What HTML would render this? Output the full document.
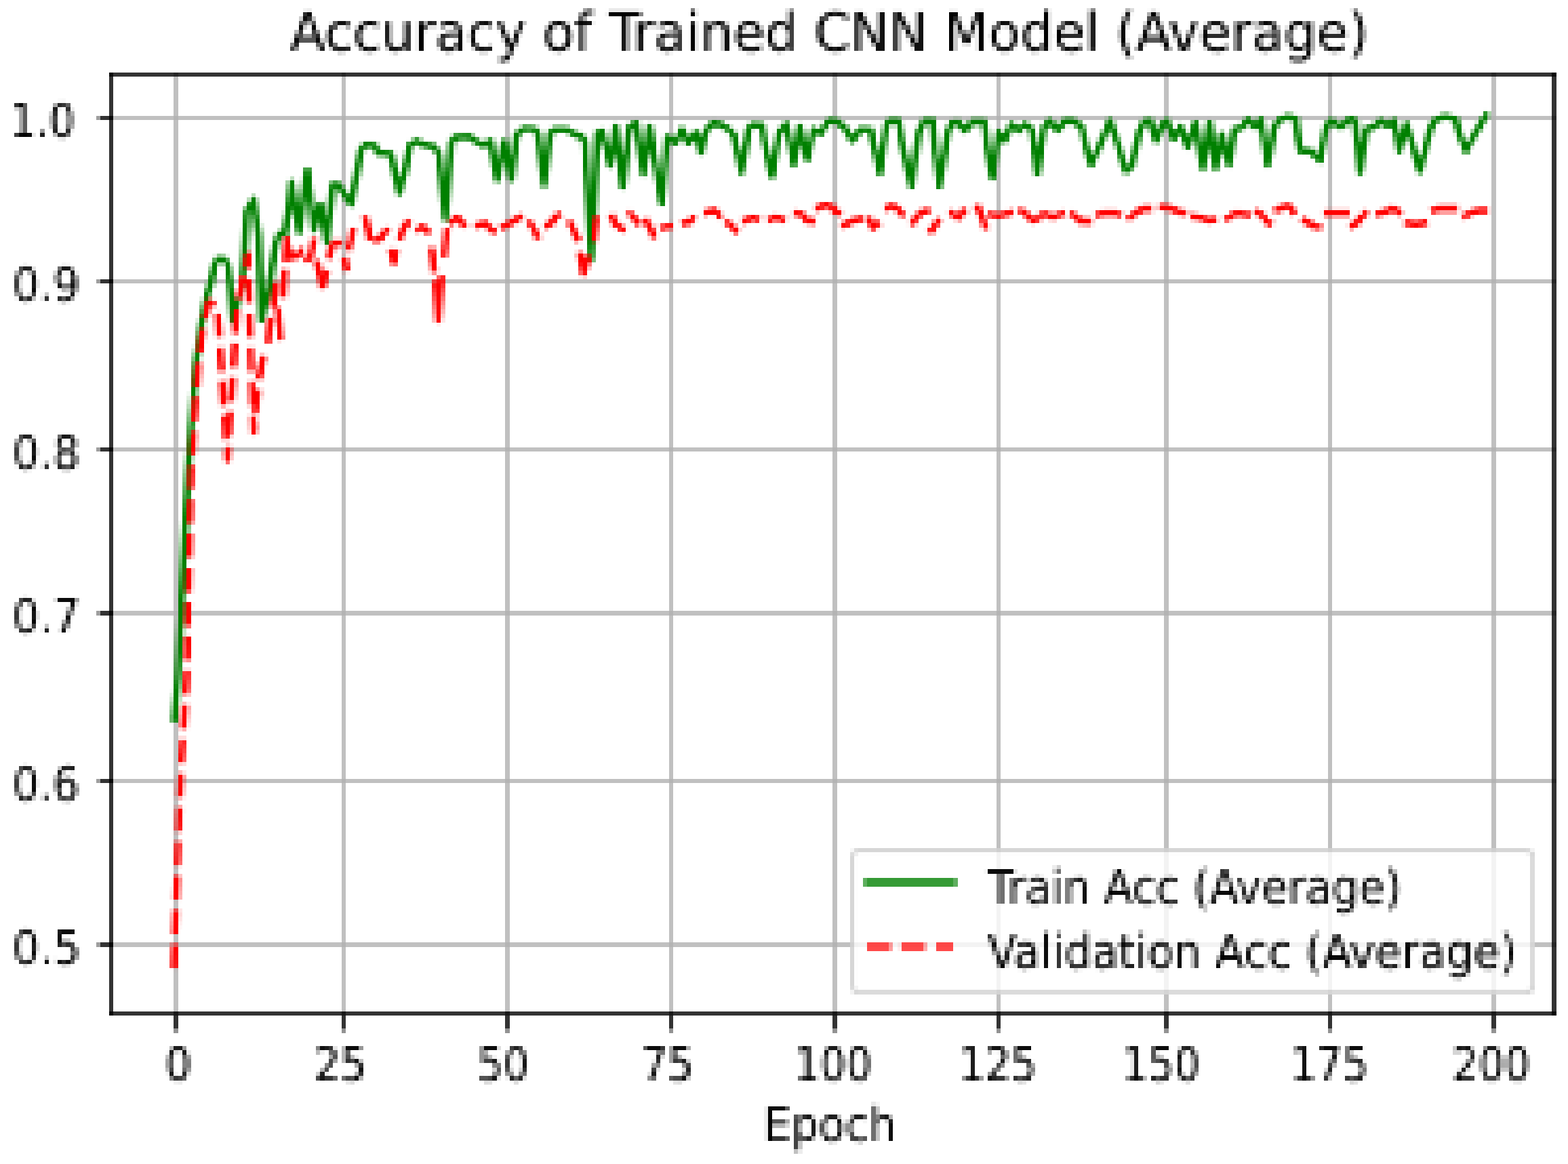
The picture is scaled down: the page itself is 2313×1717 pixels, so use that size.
<!DOCTYPE html>
<html lang="en">
<head>
<meta charset="utf-8">
<title>Accuracy of Trained CNN Model (Average)</title>
<style>
html,body{margin:0;padding:0;background:#ffffff;}
body{width:2313px;height:1717px;}
svg{display:block;}
text{font-family:"DejaVu Sans","Liberation Sans",sans-serif;}
</style>
</head>
<body>
<svg width="2313" height="1717" viewBox="0 0 2313 1717">
<defs>
<filter id="fbox" filterUnits="userSpaceOnUse" x="0" y="0" width="2313" height="1717" color-interpolation-filters="sRGB">
<feConvolveMatrix order="6 1" kernelMatrix="1 1 1 1 1 1" divisor="6" targetX="0" targetY="0" edgeMode="duplicate" preserveAlpha="true" result="h"/>
<feConvolveMatrix in="h" order="1 6" kernelMatrix="1 1 1 1 1 1" divisor="6" targetX="0" targetY="0" edgeMode="duplicate" preserveAlpha="true"/>
</filter>
<pattern id="pdots" patternUnits="userSpaceOnUse" x="53" y="88" width="108" height="108" fill="#ffffff"><rect x="0" y="0" width="1" height="1"/><rect x="0" y="6" width="1" height="1"/><rect x="0" y="13" width="1" height="1"/><rect x="0" y="19" width="1" height="1"/><rect x="0" y="25" width="1" height="1"/><rect x="0" y="32" width="1" height="1"/><rect x="0" y="38" width="1" height="1"/><rect x="0" y="44" width="1" height="1"/><rect x="0" y="51" width="1" height="1"/><rect x="0" y="57" width="1" height="1"/><rect x="0" y="64" width="1" height="1"/><rect x="0" y="70" width="1" height="1"/><rect x="0" y="76" width="1" height="1"/><rect x="0" y="83" width="1" height="1"/><rect x="0" y="89" width="1" height="1"/><rect x="0" y="95" width="1" height="1"/><rect x="0" y="102" width="1" height="1"/><rect x="6" y="0" width="1" height="1"/><rect x="6" y="6" width="1" height="1"/><rect x="6" y="13" width="1" height="1"/><rect x="6" y="19" width="1" height="1"/><rect x="6" y="25" width="1" height="1"/><rect x="6" y="32" width="1" height="1"/><rect x="6" y="38" width="1" height="1"/><rect x="6" y="44" width="1" height="1"/><rect x="6" y="51" width="1" height="1"/><rect x="6" y="57" width="1" height="1"/><rect x="6" y="64" width="1" height="1"/><rect x="6" y="70" width="1" height="1"/><rect x="6" y="76" width="1" height="1"/><rect x="6" y="83" width="1" height="1"/><rect x="6" y="89" width="1" height="1"/><rect x="6" y="95" width="1" height="1"/><rect x="6" y="102" width="1" height="1"/><rect x="13" y="0" width="1" height="1"/><rect x="13" y="6" width="1" height="1"/><rect x="13" y="13" width="1" height="1"/><rect x="13" y="19" width="1" height="1"/><rect x="13" y="25" width="1" height="1"/><rect x="13" y="32" width="1" height="1"/><rect x="13" y="38" width="1" height="1"/><rect x="13" y="44" width="1" height="1"/><rect x="13" y="51" width="1" height="1"/><rect x="13" y="57" width="1" height="1"/><rect x="13" y="64" width="1" height="1"/><rect x="13" y="70" width="1" height="1"/><rect x="13" y="76" width="1" height="1"/><rect x="13" y="83" width="1" height="1"/><rect x="13" y="89" width="1" height="1"/><rect x="13" y="95" width="1" height="1"/><rect x="13" y="102" width="1" height="1"/><rect x="19" y="0" width="1" height="1"/><rect x="19" y="6" width="1" height="1"/><rect x="19" y="13" width="1" height="1"/><rect x="19" y="19" width="1" height="1"/><rect x="19" y="25" width="1" height="1"/><rect x="19" y="32" width="1" height="1"/><rect x="19" y="38" width="1" height="1"/><rect x="19" y="44" width="1" height="1"/><rect x="19" y="51" width="1" height="1"/><rect x="19" y="57" width="1" height="1"/><rect x="19" y="64" width="1" height="1"/><rect x="19" y="70" width="1" height="1"/><rect x="19" y="76" width="1" height="1"/><rect x="19" y="83" width="1" height="1"/><rect x="19" y="89" width="1" height="1"/><rect x="19" y="95" width="1" height="1"/><rect x="19" y="102" width="1" height="1"/><rect x="25" y="0" width="1" height="1"/><rect x="25" y="6" width="1" height="1"/><rect x="25" y="13" width="1" height="1"/><rect x="25" y="19" width="1" height="1"/><rect x="25" y="25" width="1" height="1"/><rect x="25" y="32" width="1" height="1"/><rect x="25" y="38" width="1" height="1"/><rect x="25" y="44" width="1" height="1"/><rect x="25" y="51" width="1" height="1"/><rect x="25" y="57" width="1" height="1"/><rect x="25" y="64" width="1" height="1"/><rect x="25" y="70" width="1" height="1"/><rect x="25" y="76" width="1" height="1"/><rect x="25" y="83" width="1" height="1"/><rect x="25" y="89" width="1" height="1"/><rect x="25" y="95" width="1" height="1"/><rect x="25" y="102" width="1" height="1"/><rect x="32" y="0" width="1" height="1"/><rect x="32" y="6" width="1" height="1"/><rect x="32" y="13" width="1" height="1"/><rect x="32" y="19" width="1" height="1"/><rect x="32" y="25" width="1" height="1"/><rect x="32" y="32" width="1" height="1"/><rect x="32" y="38" width="1" height="1"/><rect x="32" y="44" width="1" height="1"/><rect x="32" y="51" width="1" height="1"/><rect x="32" y="57" width="1" height="1"/><rect x="32" y="64" width="1" height="1"/><rect x="32" y="70" width="1" height="1"/><rect x="32" y="76" width="1" height="1"/><rect x="32" y="83" width="1" height="1"/><rect x="32" y="89" width="1" height="1"/><rect x="32" y="95" width="1" height="1"/><rect x="32" y="102" width="1" height="1"/><rect x="38" y="0" width="1" height="1"/><rect x="38" y="6" width="1" height="1"/><rect x="38" y="13" width="1" height="1"/><rect x="38" y="19" width="1" height="1"/><rect x="38" y="25" width="1" height="1"/><rect x="38" y="32" width="1" height="1"/><rect x="38" y="38" width="1" height="1"/><rect x="38" y="44" width="1" height="1"/><rect x="38" y="51" width="1" height="1"/><rect x="38" y="57" width="1" height="1"/><rect x="38" y="64" width="1" height="1"/><rect x="38" y="70" width="1" height="1"/><rect x="38" y="76" width="1" height="1"/><rect x="38" y="83" width="1" height="1"/><rect x="38" y="89" width="1" height="1"/><rect x="38" y="95" width="1" height="1"/><rect x="38" y="102" width="1" height="1"/><rect x="44" y="0" width="1" height="1"/><rect x="44" y="6" width="1" height="1"/><rect x="44" y="13" width="1" height="1"/><rect x="44" y="19" width="1" height="1"/><rect x="44" y="25" width="1" height="1"/><rect x="44" y="32" width="1" height="1"/><rect x="44" y="38" width="1" height="1"/><rect x="44" y="44" width="1" height="1"/><rect x="44" y="51" width="1" height="1"/><rect x="44" y="57" width="1" height="1"/><rect x="44" y="64" width="1" height="1"/><rect x="44" y="70" width="1" height="1"/><rect x="44" y="76" width="1" height="1"/><rect x="44" y="83" width="1" height="1"/><rect x="44" y="89" width="1" height="1"/><rect x="44" y="95" width="1" height="1"/><rect x="44" y="102" width="1" height="1"/><rect x="51" y="0" width="1" height="1"/><rect x="51" y="6" width="1" height="1"/><rect x="51" y="13" width="1" height="1"/><rect x="51" y="19" width="1" height="1"/><rect x="51" y="25" width="1" height="1"/><rect x="51" y="32" width="1" height="1"/><rect x="51" y="38" width="1" height="1"/><rect x="51" y="44" width="1" height="1"/><rect x="51" y="51" width="1" height="1"/><rect x="51" y="57" width="1" height="1"/><rect x="51" y="64" width="1" height="1"/><rect x="51" y="70" width="1" height="1"/><rect x="51" y="76" width="1" height="1"/><rect x="51" y="83" width="1" height="1"/><rect x="51" y="89" width="1" height="1"/><rect x="51" y="95" width="1" height="1"/><rect x="51" y="102" width="1" height="1"/><rect x="57" y="0" width="1" height="1"/><rect x="57" y="6" width="1" height="1"/><rect x="57" y="13" width="1" height="1"/><rect x="57" y="19" width="1" height="1"/><rect x="57" y="25" width="1" height="1"/><rect x="57" y="32" width="1" height="1"/><rect x="57" y="38" width="1" height="1"/><rect x="57" y="44" width="1" height="1"/><rect x="57" y="51" width="1" height="1"/><rect x="57" y="57" width="1" height="1"/><rect x="57" y="64" width="1" height="1"/><rect x="57" y="70" width="1" height="1"/><rect x="57" y="76" width="1" height="1"/><rect x="57" y="83" width="1" height="1"/><rect x="57" y="89" width="1" height="1"/><rect x="57" y="95" width="1" height="1"/><rect x="57" y="102" width="1" height="1"/><rect x="64" y="0" width="1" height="1"/><rect x="64" y="6" width="1" height="1"/><rect x="64" y="13" width="1" height="1"/><rect x="64" y="19" width="1" height="1"/><rect x="64" y="25" width="1" height="1"/><rect x="64" y="32" width="1" height="1"/><rect x="64" y="38" width="1" height="1"/><rect x="64" y="44" width="1" height="1"/><rect x="64" y="51" width="1" height="1"/><rect x="64" y="57" width="1" height="1"/><rect x="64" y="64" width="1" height="1"/><rect x="64" y="70" width="1" height="1"/><rect x="64" y="76" width="1" height="1"/><rect x="64" y="83" width="1" height="1"/><rect x="64" y="89" width="1" height="1"/><rect x="64" y="95" width="1" height="1"/><rect x="64" y="102" width="1" height="1"/><rect x="70" y="0" width="1" height="1"/><rect x="70" y="6" width="1" height="1"/><rect x="70" y="13" width="1" height="1"/><rect x="70" y="19" width="1" height="1"/><rect x="70" y="25" width="1" height="1"/><rect x="70" y="32" width="1" height="1"/><rect x="70" y="38" width="1" height="1"/><rect x="70" y="44" width="1" height="1"/><rect x="70" y="51" width="1" height="1"/><rect x="70" y="57" width="1" height="1"/><rect x="70" y="64" width="1" height="1"/><rect x="70" y="70" width="1" height="1"/><rect x="70" y="76" width="1" height="1"/><rect x="70" y="83" width="1" height="1"/><rect x="70" y="89" width="1" height="1"/><rect x="70" y="95" width="1" height="1"/><rect x="70" y="102" width="1" height="1"/><rect x="76" y="0" width="1" height="1"/><rect x="76" y="6" width="1" height="1"/><rect x="76" y="13" width="1" height="1"/><rect x="76" y="19" width="1" height="1"/><rect x="76" y="25" width="1" height="1"/><rect x="76" y="32" width="1" height="1"/><rect x="76" y="38" width="1" height="1"/><rect x="76" y="44" width="1" height="1"/><rect x="76" y="51" width="1" height="1"/><rect x="76" y="57" width="1" height="1"/><rect x="76" y="64" width="1" height="1"/><rect x="76" y="70" width="1" height="1"/><rect x="76" y="76" width="1" height="1"/><rect x="76" y="83" width="1" height="1"/><rect x="76" y="89" width="1" height="1"/><rect x="76" y="95" width="1" height="1"/><rect x="76" y="102" width="1" height="1"/><rect x="83" y="0" width="1" height="1"/><rect x="83" y="6" width="1" height="1"/><rect x="83" y="13" width="1" height="1"/><rect x="83" y="19" width="1" height="1"/><rect x="83" y="25" width="1" height="1"/><rect x="83" y="32" width="1" height="1"/><rect x="83" y="38" width="1" height="1"/><rect x="83" y="44" width="1" height="1"/><rect x="83" y="51" width="1" height="1"/><rect x="83" y="57" width="1" height="1"/><rect x="83" y="64" width="1" height="1"/><rect x="83" y="70" width="1" height="1"/><rect x="83" y="76" width="1" height="1"/><rect x="83" y="83" width="1" height="1"/><rect x="83" y="89" width="1" height="1"/><rect x="83" y="95" width="1" height="1"/><rect x="83" y="102" width="1" height="1"/><rect x="89" y="0" width="1" height="1"/><rect x="89" y="6" width="1" height="1"/><rect x="89" y="13" width="1" height="1"/><rect x="89" y="19" width="1" height="1"/><rect x="89" y="25" width="1" height="1"/><rect x="89" y="32" width="1" height="1"/><rect x="89" y="38" width="1" height="1"/><rect x="89" y="44" width="1" height="1"/><rect x="89" y="51" width="1" height="1"/><rect x="89" y="57" width="1" height="1"/><rect x="89" y="64" width="1" height="1"/><rect x="89" y="70" width="1" height="1"/><rect x="89" y="76" width="1" height="1"/><rect x="89" y="83" width="1" height="1"/><rect x="89" y="89" width="1" height="1"/><rect x="89" y="95" width="1" height="1"/><rect x="89" y="102" width="1" height="1"/><rect x="95" y="0" width="1" height="1"/><rect x="95" y="6" width="1" height="1"/><rect x="95" y="13" width="1" height="1"/><rect x="95" y="19" width="1" height="1"/><rect x="95" y="25" width="1" height="1"/><rect x="95" y="32" width="1" height="1"/><rect x="95" y="38" width="1" height="1"/><rect x="95" y="44" width="1" height="1"/><rect x="95" y="51" width="1" height="1"/><rect x="95" y="57" width="1" height="1"/><rect x="95" y="64" width="1" height="1"/><rect x="95" y="70" width="1" height="1"/><rect x="95" y="76" width="1" height="1"/><rect x="95" y="83" width="1" height="1"/><rect x="95" y="89" width="1" height="1"/><rect x="95" y="95" width="1" height="1"/><rect x="95" y="102" width="1" height="1"/><rect x="102" y="0" width="1" height="1"/><rect x="102" y="6" width="1" height="1"/><rect x="102" y="13" width="1" height="1"/><rect x="102" y="19" width="1" height="1"/><rect x="102" y="25" width="1" height="1"/><rect x="102" y="32" width="1" height="1"/><rect x="102" y="38" width="1" height="1"/><rect x="102" y="44" width="1" height="1"/><rect x="102" y="51" width="1" height="1"/><rect x="102" y="57" width="1" height="1"/><rect x="102" y="64" width="1" height="1"/><rect x="102" y="70" width="1" height="1"/><rect x="102" y="76" width="1" height="1"/><rect x="102" y="83" width="1" height="1"/><rect x="102" y="89" width="1" height="1"/><rect x="102" y="95" width="1" height="1"/><rect x="102" y="102" width="1" height="1"/></pattern>
<mask id="mdots" maskUnits="userSpaceOnUse" x="0" y="0" width="2313" height="1717"><rect x="0" y="0" width="2313" height="1717" fill="url(#pdots)"/></mask>
<filter id="fexp" filterUnits="userSpaceOnUse" x="0" y="0" width="2313" height="1717" color-interpolation-filters="sRGB">
<feOffset in="SourceGraphic" dx="1" dy="0" result="a1"/><feMerge result="e1"><feMergeNode in="a1"/><feMergeNode in="SourceGraphic"/></feMerge>
<feOffset in="e1" dx="2" dy="0" result="a2"/><feMerge result="e2"><feMergeNode in="a2"/><feMergeNode in="e1"/></feMerge>
<feOffset in="e2" dx="3" dy="0" result="a3"/><feMerge result="e3"><feMergeNode in="a3"/><feMergeNode in="e2"/></feMerge>
<feOffset in="e3" dx="0" dy="1" result="c1"/><feMerge result="g1"><feMergeNode in="c1"/><feMergeNode in="e3"/></feMerge>
<feOffset in="g1" dx="0" dy="2" result="c2"/><feMerge result="g2"><feMergeNode in="c2"/><feMergeNode in="g1"/></feMerge>
<feOffset in="g2" dx="0" dy="3" result="c3"/><feMerge><feMergeNode in="c3"/><feMergeNode in="g2"/></feMerge>
</filter>
</defs>
<g filter="url(#fexp)"><g mask="url(#mdots)"><g filter="url(#fbox)">
<rect x="-20" y="-20" width="2353" height="1757" fill="#ffffff"/>
<g fill="rgb(176,176,176)" fill-opacity="0.8">
<rect x="256" y="107" width="7" height="1391"/>
<rect x="504" y="107" width="6" height="1391"/>
<rect x="745" y="107" width="7" height="1391"/>
<rect x="987" y="107" width="6" height="1391"/>
<rect x="1228" y="107" width="7" height="1391"/>
<rect x="1470" y="107" width="6" height="1391"/>
<rect x="1717" y="107" width="7" height="1391"/>
<rect x="1959" y="107" width="6" height="1391"/>
<rect x="2200" y="107" width="7" height="1391"/>
<rect x="161" y="171" width="2135" height="6"/>
<rect x="161" y="412" width="2135" height="6"/>
<rect x="161" y="660" width="2135" height="6"/>
<rect x="161" y="901" width="2135" height="7"/>
<rect x="161" y="1149" width="2135" height="6"/>
<rect x="161" y="1390" width="2135" height="7"/>
</g>
<clipPath id="axclip"><rect x="161" y="107" width="2135" height="1391"/></clipPath>
<g clip-path="url(#axclip)" fill="none" stroke-linejoin="round">
<polyline points="257.0,1060.7 262.5,997.0 269.0,857.0 277.0,700.0 282.0,628.0 288.5,538.0 297.5,475.0 303.8,441.0 311.0,416.1 316.4,390.9 320.9,381.9 331.7,382.8 336.2,392.7 338.9,414.3 343.4,473.1 356.9,419.7 360.4,374.7 364.0,311.8 373.9,293.8 381.1,347.8 383.8,419.7 385.6,471.3 396.4,426.9 401.8,389.1 407.2,356.7 411.7,345.1 419.8,345.1 425.2,311.8 429.7,268.7 441.3,342.4 453.0,250.7 462.9,338.8 471.9,301.0 481.8,356.7 490.8,272.2 498.9,272.2 506.1,283.0 517.8,301.0 525.8,257.9 532.1,221.9 538.4,213.8 552.8,214.7 558.2,225.5 576.2,226.4 581.6,250.7 588.8,284.8 597.8,248.9 604.9,212.9 615.7,207.5 620.0,212.0 639.8,216.5 647.0,225.5 656.9,322.6 665.8,209.3 672.1,202.1 691.9,201.2 700.9,207.5 713.5,214.7 723.4,207.5 733.3,265.1 743.7,208.4 753.9,264.2 762.0,198.5 772.8,189.6 789.0,190.4 793.5,196.7 802.5,272.2 811.5,196.7 817.8,191.0 835.7,191.0 844.7,196.7 857.3,201.2 862.7,207.5 872.2,381.0 881.6,196.7 887.9,193.1 900.1,243.5 908.5,186.9 918.4,274.9 928.3,186.9 938.2,181.5 949.0,256.1 958.0,186.9 976.0,299.2 984.0,202.1 996.6,210.2 1005.8,190.4 1015.3,210.6 1027.3,195.8 1034.2,224.1 1041.3,192.2 1052.1,181.5 1062.9,183.3 1075.5,191.3 1082.7,200.3 1093.5,253.4 1104.3,189.6 1109.7,184.2 1124.0,185.1 1127.6,209.3 1138.4,259.7 1149.2,194.9 1160.0,183.3 1170.8,241.7 1179.8,186.9 1190.6,234.5 1199.6,190.4 1210.3,196.7 1219.3,181.5 1224.7,177.9 1235.5,179.7 1246.3,188.7 1257.1,207.5 1269.7,190.4 1284.0,191.3 1297.5,254.3 1307.4,183.3 1312.8,178.4 1325.4,178.4 1330.8,212.9 1344.3,274.0 1355.1,194.9 1363.1,178.4 1375.7,178.4 1379.3,221.9 1385.6,274.0 1398.0,194.9 1403.4,181.5 1414.2,180.6 1423.1,192.2 1433.9,179.7 1451.9,179.7 1455.5,212.9 1463.6,261.5 1472.6,194.9 1480.7,207.5 1487.9,193.1 1491.5,183.3 1502.2,192.2 1511.2,183.3 1522.0,190.4 1530.1,255.2 1540.0,186.9 1548.1,178.4 1559.8,192.2 1570.6,178.4 1583.1,178.4 1595.7,186.9 1601.1,212.9 1609.2,241.7 1622.7,212.9 1637.1,178.4 1646.1,203.9 1660.4,251.6 1669.4,245.3 1680.2,194.9 1687.4,179.7 1696.4,178.4 1705.4,207.5 1714.4,183.3 1721.6,178.4 1730.6,203.9 1741.3,186.9 1752.1,216.5 1761.1,186.9 1763.6,181.5 1774.4,248.0 1784.3,181.5 1793.3,248.0 1802.2,198.5 1813.0,242.6 1821.1,190.4 1830.1,188.7 1840.9,176.6 1851.7,186.9 1859.8,176.6 1869.7,242.6 1879.6,186.9 1887.6,176.6 1900.2,171.6 1911.0,174.8 1914.6,203.9 1918.2,221.9 1932.6,222.8 1947.0,236.3 1956.0,186.9 1963.1,178.4 1977.5,186.9 1991.9,174.8 1999.1,178.4 2006.3,253.4 2015.3,190.4 2026.1,186.9 2036.9,178.4 2047.6,185.1 2056.6,178.4 2063.8,221.9 2074.6,183.3 2094.4,251.6 2110.6,186.9 2117.8,176.6 2130.3,171.6 2146.5,174.8 2153.7,200.3 2162.0,221.9 2179.1,191.3 2192.0,170.1" stroke="#008000" stroke-width="9.53" stroke-linecap="square"/>
<polyline points="256.3,1428.0 266.0,1152.0 275.0,997.0 282.0,700.0 286.0,628.0 292.0,538.0 300.0,478.0 308.0,445.0 320.0,449.8 335.3,678.1 349.7,448.0 365.8,376.5 368.0,471.3 373.9,636.7 382.0,555.8 389.2,521.7" stroke="#ff0000" stroke-width="9.53" stroke-dasharray="35.26 15.25" stroke-linecap="butt"/>
<polyline points="395.4,506.5 398.6,468.5" stroke="#ff0000" stroke-width="9.53" stroke-linecap="butt"/>
<polyline points="402.8,453.5 406.7,416.5" stroke="#ff0000" stroke-width="9.53" stroke-linecap="butt"/>
<polyline points="409.4,453.5 413.6,501.5" stroke="#ff0000" stroke-width="9.53" stroke-linecap="butt"/>
<polyline points="417.2,438.5 419.9,397.5" stroke="#ff0000" stroke-width="9.53" stroke-linecap="butt"/>
<polyline points="420.9,385.5 423.4,348.5" stroke="#ff0000" stroke-width="9.53" stroke-linecap="butt"/>
<polyline points="425.6,364.6 430.0,379.0 441.0,376.0 445.0,364.6" stroke="#ff0000" stroke-width="9.53" stroke-linecap="butt"/>
<polyline points="448.7,383.7 458.0,379.0 463.3,350.5" stroke="#ff0000" stroke-width="9.53" stroke-linecap="butt"/>
<polyline points="466.7,383.5 471.0,402.0 476.3,425.5" stroke="#ff0000" stroke-width="9.53" stroke-linecap="butt"/>
<polyline points="477.2,421.5 481.8,398.5" stroke="#ff0000" stroke-width="9.53" stroke-linecap="butt"/>
<polyline points="485.2,381.5 489.8,358.5" stroke="#ff0000" stroke-width="9.53" stroke-linecap="butt"/>
<polyline points="489.5,358.0 505.5,358.0" stroke="#ff0000" stroke-width="9.53" stroke-linecap="butt"/>
<polyline points="507.7,379.5 511.3,399.5" stroke="#ff0000" stroke-width="9.53" stroke-linecap="butt"/>
<polyline points="513.6,369.5 518.0,352.0 520.7,335.5" stroke="#ff0000" stroke-width="9.53" stroke-linecap="butt"/>
<polyline points="537.6,318.6 542.0,335.0 546.3,354.5" stroke="#ff0000" stroke-width="9.53" stroke-linecap="butt"/>
<polyline points="550.6,355.5 560.0,352.0 567.0,343.0 573.1,336.9" stroke="#ff0000" stroke-width="9.53" stroke-linecap="butt"/>
<polyline points="576.7,366.5 580.5,387.0 584.3,368.5" stroke="#ff0000" stroke-width="9.53" stroke-linecap="butt"/>
<polyline points="589.0,353.4 596.0,335.0 603.9,324.8" stroke="#ff0000" stroke-width="9.53" stroke-linecap="butt"/>
<polyline points="613.8,340.9 623.0,334.0 629.0,338.5 633.3,345.3" stroke="#ff0000" stroke-width="9.53" stroke-linecap="butt"/>
<polyline points="636.1,364.5 640.7,401.5" stroke="#ff0000" stroke-width="9.53" stroke-linecap="butt"/>
<polyline points="641.9,413.5 646.0,472.0 651.1,406.5" stroke="#ff0000" stroke-width="9.53" stroke-linecap="butt"/>
<polyline points="654.9,379.5 659.1,336.5" stroke="#ff0000" stroke-width="9.53" stroke-linecap="butt"/>
<polyline points="663.1,330.1 674.4,320.3 686.8,334.2" stroke="#ff0000" stroke-width="9.53" stroke-linecap="butt"/>
<polyline points="700.6,333.6 715.5,329.1 723.6,337.2 730.7,343.6" stroke="#ff0000" stroke-width="9.53" stroke-linecap="butt"/>
<polyline points="738.4,336.6 751.9,329.1 761.3,323.7 770.6,317.5" stroke="#ff0000" stroke-width="9.53" stroke-linecap="butt"/>
<polyline points="779.4,325.1 786.9,337.2 794.3,352.0" stroke="#ff0000" stroke-width="9.53" stroke-linecap="butt"/>
<polyline points="803.2,335.3 813.9,327.7 820.6,318.3 828.0,315.0" stroke="#ff0000" stroke-width="9.53" stroke-linecap="butt"/>
<polyline points="838.8,325.0 846.2,339.9 853.6,356.1" stroke="#ff0000" stroke-width="9.53" stroke-linecap="butt"/>
<polyline points="855.4,372.1 860.4,403.2 868.2,376.2" stroke="#ff0000" stroke-width="9.53" stroke-linecap="butt"/>
<polyline points="875.7,356.2 880.1,318.2" stroke="#ff0000" stroke-width="9.53" stroke-linecap="butt"/>
<polyline points="900.8,315.6 906.8,329.1 916.3,337.2 923.1,338.9" stroke="#ff0000" stroke-width="9.53" stroke-linecap="butt"/>
<polyline points="926.0,311.9 933.8,319.6 943.5,331.6" stroke="#ff0000" stroke-width="9.53" stroke-linecap="butt"/>
<polyline points="951.4,322.4 958.9,335.8 965.5,350.7" stroke="#ff0000" stroke-width="9.53" stroke-linecap="butt"/>
<polyline points="973.6,336.1 992.7,332.9" stroke="#ff0000" stroke-width="9.53" stroke-linecap="butt"/>
<polyline points="1005.3,329.4 1018.2,326.4 1024.5,318.5" stroke="#ff0000" stroke-width="9.53" stroke-linecap="butt"/>
<polyline points="1037.6,314.7 1053.2,310.2 1059.9,315.6 1061.7,322.5" stroke="#ff0000" stroke-width="9.53" stroke-linecap="butt"/>
<polyline points="1070.3,325.4 1080.2,334.5 1087.9,343.7" stroke="#ff0000" stroke-width="9.53" stroke-linecap="butt"/>
<polyline points="1094.9,326.9 1109.8,321.0 1120.7,324.1" stroke="#ff0000" stroke-width="9.53" stroke-linecap="butt"/>
<polyline points="1132.7,325.7 1144.9,319.6 1158.4,325.6" stroke="#ff0000" stroke-width="9.53" stroke-linecap="butt"/>
<polyline points="1170.3,314.1 1182.6,315.6 1189.3,325.0 1202.9,326.6" stroke="#ff0000" stroke-width="9.53" stroke-linecap="butt"/>
<polyline points="1202.8,308.1 1216.3,302.1 1227.1,304.8 1232.5,312.9 1241.5,314.5" stroke="#ff0000" stroke-width="9.53" stroke-linecap="butt"/>
<polyline points="1241.4,333.9 1254.8,326.4 1273.8,322.0" stroke="#ff0000" stroke-width="9.53" stroke-linecap="butt"/>
<polyline points="1280.5,319.6 1287.8,335.8 1297.0,326.7" stroke="#ff0000" stroke-width="9.53" stroke-linecap="butt"/>
<polyline points="1304.7,308.1 1315.5,303.5 1323.6,307.5 1334.0,319.4" stroke="#ff0000" stroke-width="9.53" stroke-linecap="butt"/>
<polyline points="1344.3,331.7 1353.2,318.3 1361.3,312.2 1372.2,309.9" stroke="#ff0000" stroke-width="9.53" stroke-linecap="butt"/>
<polyline points="1370.5,343.7 1378.8,333.1 1385.7,322.4" stroke="#ff0000" stroke-width="9.53" stroke-linecap="butt"/>
<polyline points="1399.8,312.1 1413.9,321.0 1424.2,307.7" stroke="#ff0000" stroke-width="9.53" stroke-linecap="butt"/>
<polyline points="1440.1,302.1 1447.5,317.0 1454.8,338.6" stroke="#ff0000" stroke-width="9.53" stroke-linecap="butt"/>
<polyline points="1456.9,315.3 1471.8,318.3 1494.8,312.5" stroke="#ff0000" stroke-width="9.53" stroke-linecap="butt"/>
<polyline points="1503.0,308.0 1514.9,317.0 1523.0,325.0 1533.9,321.9" stroke="#ff0000" stroke-width="9.53" stroke-linecap="butt"/>
<polyline points="1533.3,319.1 1540.0,314.9 1552.1,319.9 1571.1,313.5" stroke="#ff0000" stroke-width="9.53" stroke-linecap="butt"/>
<polyline points="1577.8,313.4 1587.2,319.6 1592.6,325.7 1610.2,326.5" stroke="#ff0000" stroke-width="9.53" stroke-linecap="butt"/>
<polyline points="1615.4,317.4 1626.3,314.3 1645.1,314.3 1654.6,317.4" stroke="#ff0000" stroke-width="9.53" stroke-linecap="butt"/>
<polyline points="1662.8,323.2 1674.8,314.3 1685.6,307.5 1699.2,307.5" stroke="#ff0000" stroke-width="9.53" stroke-linecap="butt"/>
<polyline points="1709.7,304.6 1728.7,307.5 1739.5,312.9 1750.4,314.5" stroke="#ff0000" stroke-width="9.53" stroke-linecap="butt"/>
<polyline points="1755.5,318.8 1769.1,320.3 1782.6,325.0 1794.9,323.5" stroke="#ff0000" stroke-width="9.53" stroke-linecap="butt"/>
<polyline points="1807.0,324.6 1817.6,317.0 1824.4,314.3 1844.7,317.2" stroke="#ff0000" stroke-width="9.53" stroke-linecap="butt"/>
<polyline points="1850.8,310.8 1861.6,317.0 1868.3,326.4 1876.3,331.2" stroke="#ff0000" stroke-width="9.53" stroke-linecap="butt"/>
<polyline points="1879.0,310.7 1891.2,306.2 1900.6,303.5 1906.0,308.9 1909.3,317.0" stroke="#ff0000" stroke-width="9.53" stroke-linecap="butt"/>
<polyline points="1919.5,323.0 1931.6,329.1 1939.7,334.5 1949.3,334.5" stroke="#ff0000" stroke-width="9.53" stroke-linecap="butt"/>
<polyline points="1951.7,314.3 1991.1,314.3" stroke="#ff0000" stroke-width="9.53" stroke-linecap="butt"/>
<polyline points="1991.0,335.3 2000.4,329.1 2008.5,319.6 2017.7,312.0" stroke="#ff0000" stroke-width="9.53" stroke-linecap="butt"/>
<polyline points="2028.6,315.9 2042.2,312.9 2052.9,307.5 2061.0,310.2 2066.0,316.8" stroke="#ff0000" stroke-width="9.53" stroke-linecap="butt"/>
<polyline points="2071.7,328.2 2089.3,330.4 2105.6,327.5" stroke="#ff0000" stroke-width="9.53" stroke-linecap="butt"/>
<polyline points="2110.8,310.6 2123.0,307.5 2150.1,307.5" stroke="#ff0000" stroke-width="9.53" stroke-linecap="butt"/>
<polyline points="2157.3,320.4 2168.0,314.3 2181.5,310.2 2194.8,310.2" stroke="#ff0000" stroke-width="9.53" stroke-linecap="butt"/>
</g>
<g fill="#000000" fill-opacity="0.8">
<rect x="256.00" y="1495.18" width="7.00" height="25.00" fill="#000000"/>
<rect x="504.00" y="1495.18" width="6.00" height="25.00" fill="#000000"/>
<rect x="745.00" y="1495.18" width="7.00" height="25.00" fill="#000000"/>
<rect x="987.00" y="1495.18" width="6.00" height="25.00" fill="#000000"/>
<rect x="1228.00" y="1495.18" width="7.00" height="25.00" fill="#000000"/>
<rect x="1470.00" y="1495.18" width="6.00" height="25.00" fill="#000000"/>
<rect x="1717.00" y="1495.18" width="7.00" height="25.00" fill="#000000"/>
<rect x="1959.00" y="1495.18" width="6.00" height="25.00" fill="#000000"/>
<rect x="2200.00" y="1495.18" width="7.00" height="25.00" fill="#000000"/>
<rect x="145.18" y="171.00" width="21.82" height="6.00" fill="#000000"/>
<rect x="145.18" y="412.00" width="21.82" height="6.00" fill="#000000"/>
<rect x="145.18" y="660.00" width="21.82" height="6.00" fill="#000000"/>
<rect x="145.18" y="901.00" width="21.82" height="7.00" fill="#000000"/>
<rect x="145.18" y="1149.00" width="21.82" height="6.00" fill="#000000"/>
<rect x="145.18" y="1390.00" width="21.82" height="7.00" fill="#000000"/>
<rect x="161.00" y="107.00" width="6.00" height="1391.00" fill="#000000"/>
<rect x="2289.00" y="107.00" width="7.00" height="1391.00" fill="#000000"/>
<rect x="161.00" y="107.00" width="2135.00" height="6.00" fill="#000000"/>
<rect x="161.00" y="1492.00" width="2135.00" height="6.00" fill="#000000"/>
</g>
<rect x="1257.18" y="1254.18" width="1003.65" height="209.65" rx="10.16" fill="#ffffff" fill-opacity="0.8" stroke="#cccccc" stroke-opacity="0.8" stroke-width="6.353"/>
<line x1="1279.00" y1="1301" x2="1406.00" y2="1301" stroke="#008000" stroke-width="9.53" stroke-linecap="square"/>
<line x1="1279.00" y1="1396.5" x2="1406.00" y2="1396.5" stroke="#ff0000" stroke-width="9.53" stroke-dasharray="35.26 15.25"/>
<text transform="translate(1456.90 1333.00) scale(0.6306 0.6996)" font-size="100" fill="#000000">Train Acc (Average)</text>
<text transform="translate(1456.26 1428.00) scale(0.6391 0.6859)" font-size="100" fill="#000000">Validation Acc (Average)</text>
<text transform="translate(243.70 1594.00) scale(0.6030 0.6996)" font-size="100" fill="#000000">0</text>
<text transform="translate(463.31 1594.00) scale(0.6030 0.6996)" font-size="100" fill="#000000">25</text>
<text transform="translate(704.01 1594.00) scale(0.6030 0.6996)" font-size="100" fill="#000000">50</text>
<text transform="translate(945.91 1594.00) scale(0.6030 0.6996)" font-size="100" fill="#000000">75</text>
<text transform="translate(1171.21 1594.00) scale(0.6030 0.6996)" font-size="100" fill="#000000">100</text>
<text transform="translate(1414.31 1594.00) scale(0.6030 0.6996)" font-size="100" fill="#000000">125</text>
<text transform="translate(1655.21 1594.00) scale(0.6030 0.6996)" font-size="100" fill="#000000">150</text>
<text transform="translate(1903.51 1594.00) scale(0.6030 0.6996)" font-size="100" fill="#000000">175</text>
<text transform="translate(2142.31 1594.00) scale(0.6030 0.6996)" font-size="100" fill="#000000">200</text>
<text transform="translate(14.76 202.00) scale(0.6035 0.6859)" font-size="100" fill="#000000">1.0</text>
<text transform="translate(18.13 444.00) scale(0.6241 0.6996)" font-size="100" fill="#000000">0.9</text>
<text transform="translate(18.13 692.00) scale(0.6241 0.6996)" font-size="100" fill="#000000">0.8</text>
<text transform="translate(18.10 933.00) scale(0.6285 0.6996)" font-size="100" fill="#000000">0.7</text>
<text transform="translate(18.16 1181.00) scale(0.6199 0.6996)" font-size="100" fill="#000000">0.6</text>
<text transform="translate(18.07 1422.00) scale(0.6329 0.6996)" font-size="100" fill="#000000">0.5</text>
<text transform="translate(1126.20 1683.00) scale(0.6403 0.6996)" font-size="100" fill="#000000">Epoch</text>
<text transform="translate(427.54 75.00) scale(0.7632 0.7819)" font-size="100" fill="#000000">Accuracy of Trained CNN Model (Average)</text>
</g></g></g>
</svg>
</body>
</html>
